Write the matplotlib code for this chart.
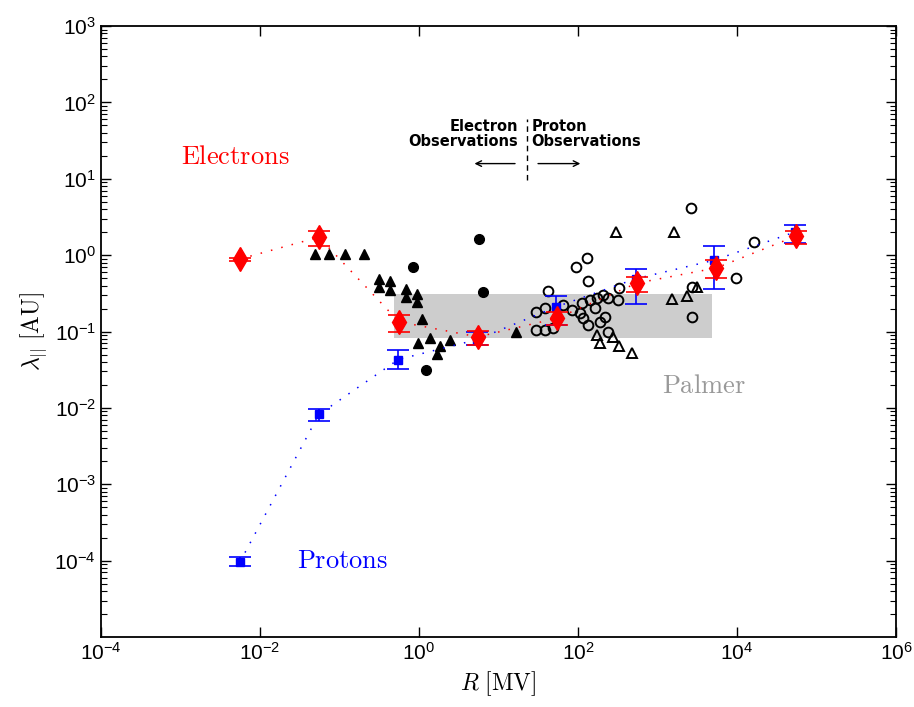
import matplotlib
matplotlib.use("Agg")
import matplotlib.pyplot as plt
from matplotlib.patches import Rectangle
import numpy as np

plt.rcParams['mathtext.fontset'] = 'cm'
plt.rcParams['font.family'] = ['Liberation Sans', 'DejaVu Sans']

# ---------------- data ----------------
# Electrons (red diamonds) with error bars
e_R = [0.0056, 0.055, 0.56, 5.5, 55, 550, 5500, 55000]
e_lam = [0.89, 1.72, 0.134, 0.085, 0.15, 0.43, 0.68, 1.77]
e_hi = [0.93, 2.1, 0.165, 0.103, 0.18, 0.52, 0.86, 2.1]
e_lo = [0.85, 1.3, 0.10, 0.066, 0.12, 0.33, 0.50, 1.42]

# Protons (blue squares) with error bars
p_R = [0.0056, 0.055, 0.55, 5.3, 53, 530, 5200, 53000]
p_lam = [9.6e-5, 0.0082, 0.043, 0.078, 0.21, 0.49, 0.86, 2.0]
p_hi = [1.1e-4, 0.0098, 0.058, 0.10, 0.29, 0.66, 1.31, 2.46]
p_lo = [8.5e-5, 0.0068, 0.032, 0.067, 0.12, 0.23, 0.36, 1.43]

# filled triangles
ft_R = [0.049, 0.074, 0.117, 0.203, 0.314, 0.314, 0.43, 0.43, 0.69, 0.69,
        0.94, 0.94, 1.09, 0.97, 1.37, 1.84, 1.68, 2.45, 16.6]
ft_lam = [1.03, 1.03, 1.03, 1.03, 0.49, 0.38, 0.46, 0.35, 0.36, 0.28,
          0.31, 0.24, 0.147, 0.071, 0.083, 0.065, 0.051, 0.078, 0.099]

# filled circles
fc_R = [0.84, 5.7, 6.4, 1.22]
fc_lam = [0.70, 1.62, 0.33, 0.031]

# open circles
oc_R = [2640, 16400, 9700, 2720, 2720, 130, 94, 134, 42, 328,
        29.6, 38.5, 29.6, 38.5, 48.5, 64.8, 84, 112, 106, 116,
        134, 164, 206, 173, 238, 318, 219, 189, 238, 142]
oc_lam = [4.1, 1.48, 0.50, 0.38, 0.155, 0.91, 0.70, 0.46, 0.34, 0.37,
          0.18, 0.204, 0.105, 0.105, 0.112, 0.223, 0.19, 0.237, 0.175, 0.151,
          0.122, 0.204, 0.30, 0.275, 0.275, 0.26, 0.155, 0.134, 0.099, 0.26]

# open triangles
ot_R = [300, 1610, 1520, 2350, 3140, 173, 189, 275, 328, 477]
ot_lam = [2.0, 2.0, 0.27, 0.29, 0.38, 0.091, 0.071, 0.085, 0.065, 0.053]

# Palmer consensus range
palmer_R = [0.49, 4850]
palmer_lam = [0.083, 0.31]

# ---------------- figure ----------------
fig = plt.figure(figsize=(9.14, 7.07), dpi=100)
ax = fig.add_axes([0.1105, 0.099, 0.8698, 0.8642])
ax.set_xscale('log')
ax.set_yscale('log')
ax.set_xlim(1e-4, 1e6)
ax.set_ylim(1e-5, 1e3)

ax.add_patch(Rectangle((palmer_R[0], palmer_lam[0]),
                       palmer_R[1] - palmer_R[0], palmer_lam[1] - palmer_lam[0],
                       facecolor='#cdcdcd', edgecolor='none', zorder=1))

ax.plot(ft_R, ft_lam, linestyle='none', marker='^', color='black', markersize=7.5, zorder=3)
ax.plot(fc_R, fc_lam, linestyle='none', marker='o', color='black', markersize=7, zorder=3)
ax.plot(oc_R, oc_lam, linestyle='none', marker='o', markerfacecolor='none',
        markeredgecolor='black', markeredgewidth=1.4, markersize=7, zorder=3)
ax.plot(ot_R, ot_lam, linestyle='none', marker='^', markerfacecolor='none',
        markeredgecolor='black', markeredgewidth=1.4, markersize=7, zorder=3)

p_lam_a = np.array(p_lam)
p_err = [p_lam_a - np.array(p_lo), np.array(p_hi) - p_lam_a]
ax.plot(p_R, p_lam, linestyle=(0, (1, 6)), color='blue', linewidth=1.1, zorder=4)
ax.errorbar(p_R, p_lam, yerr=p_err, fmt='s', color='blue', markersize=6,
            capsize=8, elinewidth=1.2, capthick=1.2, zorder=5)

e_lam_a = np.array(e_lam)
e_err = [e_lam_a - np.array(e_lo), np.array(e_hi) - e_lam_a]
ax.plot(e_R, e_lam, linestyle=(0, (1, 6)), color='red', linewidth=1.1, zorder=6)
ax.errorbar(e_R, e_lam, yerr=e_err, fmt='d', color='red', markersize=12,
            capsize=8, elinewidth=1.2, capthick=1.2, zorder=7)

# ticks
ax.set_xticks([1e-4, 1e-2, 1e0, 1e2, 1e4, 1e6])
ax.xaxis.set_minor_locator(matplotlib.ticker.NullLocator())
ax.set_yticks([10.0**k for k in range(-4, 4)])
ax.yaxis.set_minor_locator(matplotlib.ticker.LogLocator(base=10, subs=np.arange(2, 10), numticks=20))
ax.tick_params(which='both', direction='in', top=True, right=True, labelsize=15)
ax.tick_params(which='major', length=7, width=1)
ax.tick_params(which='minor', length=4, width=0.8)
for s in ax.spines.values():
    s.set_linewidth(1.3)

ax.set_xlabel(r'$R\ [\mathrm{MV}]$', fontsize=17, labelpad=4)
ax.set_ylabel(r'$\lambda_{||}\ [\mathrm{AU}]$', fontsize=17, labelpad=4)

# labels
ax.text(0.0049, 19, r'$\mathrm{Electrons}$', color='red', fontsize=19,
        ha='center', va='center')
ax.text(0.11, 1.0e-4, r'$\mathrm{Protons}$', color='blue', fontsize=19,
        ha='center', va='center')
ax.text(3850, 0.0196, r'$\mathrm{Palmer}$', color='#999999', fontsize=19,
        ha='center', va='center')

ax.text(17.5, 38, 'Electron\nObservations', ha='right', va='center', fontsize=10.5,
        family='DejaVu Sans', weight='bold', linespacing=1.0)
ax.text(26, 38, 'Proton\nObservations', ha='left', va='center', fontsize=10.5,
        family='DejaVu Sans', weight='bold', linespacing=1.0)
ax.plot([22.8, 22.8], [9.5, 60], linestyle=(0, (4, 3)), color='black', linewidth=1.0)
ax.annotate('', xy=(4.6, 15.8), xytext=(17.5, 15.8),
            arrowprops=dict(arrowstyle='->', color='black', lw=1.0))
ax.annotate('', xy=(116, 15.8), xytext=(29, 15.8),
            arrowprops=dict(arrowstyle='->', color='black', lw=1.0))

fig.savefig('out.png', dpi=100)
